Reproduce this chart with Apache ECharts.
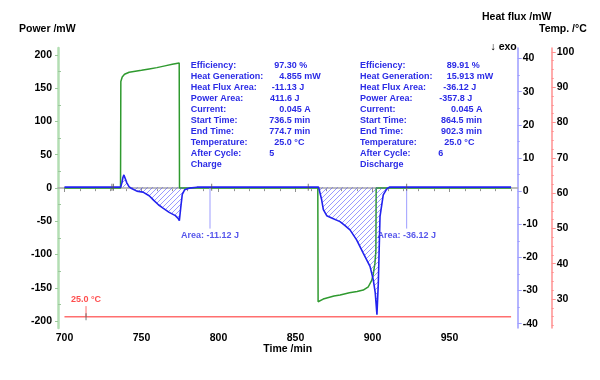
<!DOCTYPE html>
<html><head><meta charset="utf-8">
<script src="https://cdn.jsdelivr.net/npm/echarts@6/dist/echarts.min.js"></script>
<style>html,body{margin:0;padding:0;background:#fff}#c{width:600px;height:380px}</style>
</head><body><div id="c"></div>
<script>
// ---- data ----
const powerData = [[700,0],[736.4,0],[736.6,160],[737.5,167],[739,171],[742,174],[750,177],[755,179],[760,181],[766,184],[770,186],[774.5,188],[774.7,0],[864.5,0],[864.7,-171],[868,-167],[875,-162.5],[879,-161],[885,-157.5],[890,-155.5],[894,-153.5],[897.3,-148.5],[899.5,-139],[900.5,-130],[901.6,-113],[902.2,-95],[902.4,0],[990,0]];
const heatFluxData = [[700,1.2],[736.5,1.2],[737.3,2.6],[738,4.2],[738.6,4.9],[739.3,4.3],[740.5,2.5],[742,1.3],[743.6,0.8],[747,0.0],[751,-0.3],[755,-1.4],[758,-2.8],[761,-4.1],[764,-5.1],[768,-6.4],[772,-7.4],[773.8,-8.2],[774.6,-8.9],[775.5,-5],[776.5,-1],[778,0.4],[781,0.9],[786,1.2],[865,1.2],[865.5,1.0],[867,-2.6],[868.1,-5.6],[870.3,-7.4],[873.5,-8.1],[878.9,-9.2],[882,-10.3],[885.4,-11.7],[889.7,-14.7],[894,-18.7],[898.4,-22.7],[900.5,-26.7],[901.8,-30.7],[902.9,-37.3],[903.8,-27.7],[904.9,-7.6],[907,-1.1],[909.2,0.6],[911,1.2],[990,1.2]];
const tempData = [[700,25],[990,25]];
const xTicks = [700,750,800,850,900,950];
const powerTicks = [-200,-150,-100,-50,0,50,100,150,200];
const fluxTicks = [-40,-30,-20,-10,0,10,20,30,40];
const tempTicks = [30,40,50,60,70,80,90,100];
const areaMarks = [[794.5,-11.12],[922.2,-36.12]];
const limitMarks = [730.8,731.8,795.6,858.3,922.2];
const fluxBaseline = 1.2;
const tempMarkTime = 714;
const infoLabels = ['Efficiency:','Heat Generation:','Heat Flux Area:','Power Area:','Current:','Start Time:','End Time:','Temperature:','After Cycle:'];
const chargeValues = ['97.30 %','4.855 mW','-11.13 J','411.6 J','0.045 A','736.5 min','774.7 min','25.0 °C','5'];
const dischargeValues = ['89.91 %','15.913 mW','-36.12 J','-357.8 J','0.045 A','864.5 min','902.3 min','25.0 °C','6'];
const modeNames = ['Charge','Discharge'];

// ---- helpers ----
function range(a,b,s,excl){const r=[];for(let v=a;v<=b+1e-9;v+=s){const vv=Math.round(v*100)/100;if(!excl.some(e=>Math.abs(e-vv)<1e-6))r.push(vv);}return r;}
const FF = "'Liberation Sans', Arial, sans-serif";
const pc = document.createElement('canvas'); pc.width=5; pc.height=5;
const cx = pc.getContext('2d'); cx.strokeStyle='rgba(70,70,255,0.55)'; cx.lineWidth=1;
cx.beginPath(); cx.moveTo(-1,6); cx.lineTo(6,-1); cx.moveTo(-1,1); cx.lineTo(1,-1); cx.moveTo(4,6); cx.lineTo(6,4); cx.stroke();

const lbl = {fontFamily:FF, fontWeight:'bold', fontSize:10.5, color:'#000'};
function yAx(o){return Object.assign({type:'value', splitLine:{show:false}}, o);}

const chart = echarts.init(document.getElementById('c'), null, {renderer:'canvas'});
const graphics = [];
function txt(x,y,t,opt){graphics.push({type:'text', x:x, y:y, style:Object.assign({text:t, fontFamily:FF, fontWeight:'bold', fontSize:9, fill:'#2b2be6', verticalAlign:'middle'}, opt||{})});}
txt(19,29.5,'Power /mW',{fontSize:10.5, fill:'#000'});
txt(482,16.7,'Heat flux /mW',{fontSize:10.5, fill:'#000'});
txt(539,29,'Temp. /°C',{fontSize:10.5, fill:'#000'});
txt(490.5,47.5,'↓ exo',{fontSize:10.5, fill:'#000'});
txt(287.7,349.5,'Time /min',{fontSize:10.5, fill:'#000', align:'center'});
const cx1 = [274.3,279.3,271.7,270,279.3,269.3,269.3,274.3,269.3];
const cx2 = [446.7,446.7,443.3,439.3,451,441,441,444.3,438.3];
infoLabels.forEach((l,i)=>{
  const y = 66 + i*10.9;
  txt(190.7,y,l); txt(cx1[i],y,chargeValues[i]);
  txt(360,y,l); txt(cx2[i],y,dischargeValues[i]);
});
txt(190.7,66+9*10.9,modeNames[0]);
txt(360,66+9*10.9,modeNames[1]);

const option = {
  animation:false,
  grid:{left:58, right:82.3, top:48, bottom:52},
  xAxis:[
    {type:'value', min:695.8, max:994.3, splitLine:{show:false},
     axisLine:{lineStyle:{color:'#a8a8a8', width:1.5}},
     axisTick:{customValues:xTicks, length:4, lineStyle:{color:'#909090'}},
     axisLabel:Object.assign({customValues:xTicks, margin:5}, lbl)},
    {type:'value', min:695.8, max:994.3, splitLine:{show:false}, axisLine:{show:false},
     axisTick:{customValues:range(710,990,10,xTicks), length:2, lineStyle:{color:'#909090'}},
     axisLabel:{show:false}}
  ],
  yAxis:[
    yAx({min:-210.5, max:210.5, position:'left',
      axisLine:{show:true, lineStyle:{color:'#b3deb3', width:2.5}},
      axisTick:{customValues:powerTicks, length:3, lineStyle:{color:'#9cc89c'}},
      axisLabel:Object.assign({customValues:powerTicks, margin:6}, lbl)}),
    yAx({min:-41.3, max:43.2, position:'right', offset:0,
      axisLine:{show:true, lineStyle:{color:'#9d9dff', width:1.5}},
      axisTick:{customValues:fluxTicks, length:4, lineStyle:{color:'#9d9dff'}},
      axisLabel:Object.assign({customValues:fluxTicks, margin:5}, lbl)}),
    yAx({min:21.8, max:101.1, position:'right', offset:34,
      axisLine:{show:true, lineStyle:{color:'#ff9090', width:1.5}},
      axisTick:{customValues:tempTicks, length:4, lineStyle:{color:'#ff9090'}},
      axisLabel:Object.assign({customValues:tempTicks, margin:5}, lbl)}),
    yAx({min:-210.5, max:210.5, position:'left', axisLine:{show:false},
      axisTick:{inside:true, customValues:range(-175,175,50,[]), length:3, lineStyle:{color:'#9cc89c'}},
      axisLabel:{show:false}}),
    yAx({min:-41.3, max:43.2, position:'right', offset:0, axisLine:{show:false},
      axisTick:{customValues:range(-35,35,10,[]), length:2, lineStyle:{color:'#9d9dff'}},
      axisLabel:{show:false}}),
    yAx({min:21.8, max:101.1, position:'right', offset:34, axisLine:{show:false},
      axisTick:{customValues:range(22.5,100,2.5,tempTicks), length:2, lineStyle:{color:'#ff9090'}},
      axisLabel:{show:false}})
  ],
  series:[
    {type:'line', name:'Power', yAxisIndex:0, data:powerData, showSymbol:false, lineStyle:{color:'#2f9a2f', width:1.5}, z:3},
    {type:'line', name:'Heat flux', yAxisIndex:1, data:heatFluxData, showSymbol:false, lineStyle:{color:'#2222ee', width:1.6},
     areaStyle:{color:{image:pc, repeat:'repeat'}, origin:fluxBaseline, opacity:1}, z:4},
    {type:'line', name:'Temp', yAxisIndex:2, data:tempData, showSymbol:false, lineStyle:{color:'#ff6f6f', width:1.6}, z:3},
    // temperature label marker
    {type:'line', yAxisIndex:2, data:[[tempMarkTime,25],[tempMarkTime,28]], showSymbol:false, lineStyle:{color:'#ff6f6f', width:1}, z:3},
    {type:'scatter', yAxisIndex:2, data:[[tempMarkTime,30]], symbolSize:0,
     label:{show:true, position:'inside', formatter:'25.0 °C', fontFamily:FF, fontWeight:'bold', fontSize:9, color:'#ff2020'}, z:5},
    {type:'scatter', yAxisIndex:2, data:[[tempMarkTime,25]], symbol:'rect', symbolSize:[1,7], itemStyle:{color:'#555'}, z:6},
    // integration limit marks
    {type:'scatter', yAxisIndex:1, data:limitMarks.map(t=>[t,fluxBaseline]), symbol:'rect', symbolSize:[1,7], itemStyle:{color:'#555'}, z:6},
    // area markers
    ...areaMarks.map(m=>({type:'line', yAxisIndex:1, data:[[m[0],fluxBaseline],[m[0],-11.3]], showSymbol:false, lineStyle:{color:'#9d9dff', width:1}, z:3})),
    {type:'scatter', yAxisIndex:1, data:areaMarks.map(m=>[m[0],-11.3,m[1]]), symbolSize:0,
     label:{show:true, position:'bottom', distance:2, formatter:p=>'Area: '+p.value[2].toFixed(2)+' J', fontFamily:FF, fontWeight:'bold', fontSize:9, color:'#2b2be6'}, z:5}
  ],
  graphic:graphics
};
chart.setOption(option);
</script></body></html>
